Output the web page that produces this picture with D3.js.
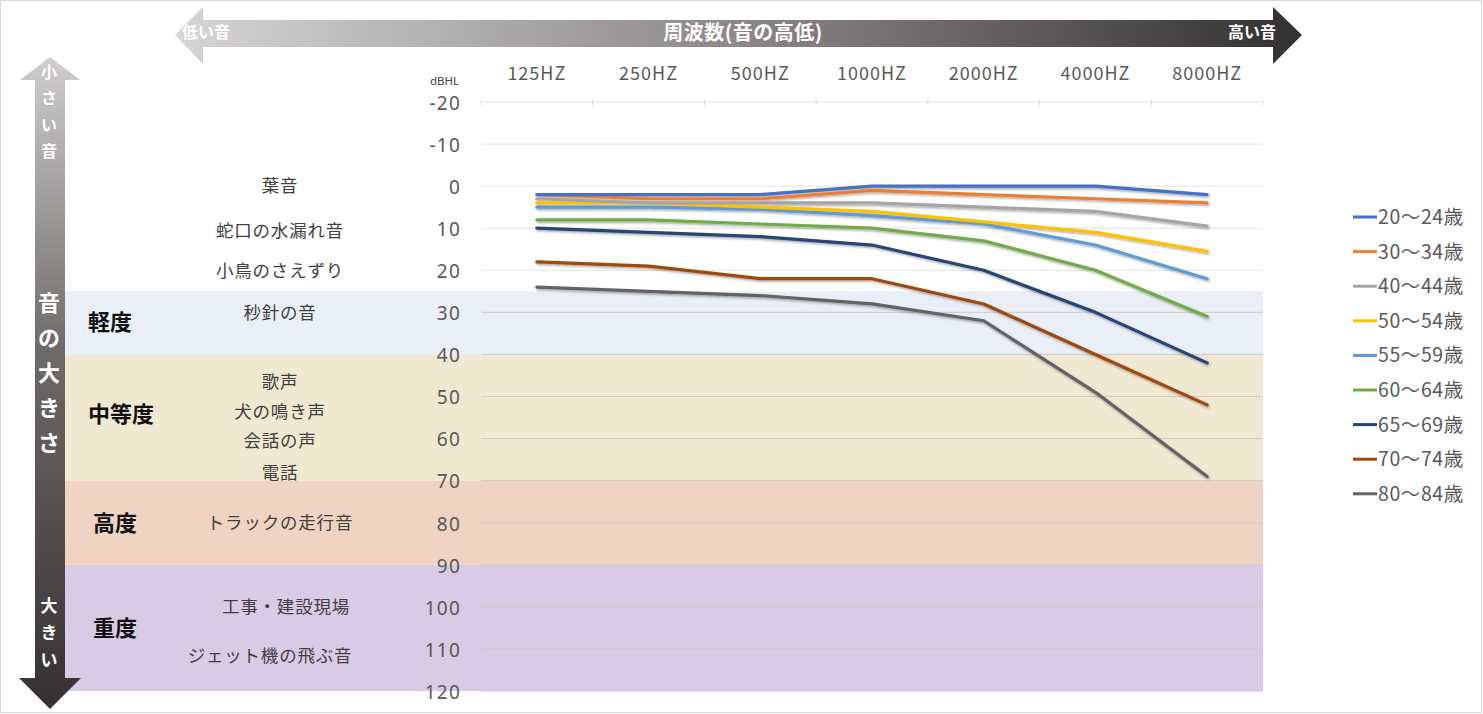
<!DOCTYPE html>
<html><head><meta charset="utf-8">
<script src="https://cdn.jsdelivr.net/npm/d3@7"></script>
<style>body{margin:0;background:#fff;}svg{display:block;font-family:"Noto Sans CJK JP","Noto Sans",sans-serif;}</style>
</head><body>
<svg id="c" width="1483" height="714"></svg>
<script>
const frequencies = ["125HZ","250HZ","500HZ","1000HZ","2000HZ","4000HZ","8000HZ"];
const seriesNames = ["20～24歳","30～34歳","40～44歳","50～54歳","55～59歳","60～64歳","65～69歳","70～74歳","80～84歳"];
const seriesColors = ["#4472C4","#ED7D31","#A5A5A5","#FFC000","#5B9BD5","#70AD47","#264478","#9E480E","#636363"];
const v20 = [2,2,2,0,0,0,2];
const v30 = [2,3,3,1,2,3,4];
const v40 = [3,4,4,4,5,6,9.5];
const v50 = [4,4,5,6,8.5,11,15.5];
const v55 = [5,5,5.5,7,9,14,22];
const v60 = [8,8,9,10,13,20,31];
const v65 = [10,11,12,14,20,30,42];
const v70 = [18,19,22,22,28,40,52];
const v80 = [24,25,26,28,32,49,69];
const seriesValues = [v20,v30,v40,v50,v55,v60,v65,v70,v80];
const yTicks = [-20,-10,0,10,20,30,40,50,60,70,80,90,100,110,120];
const bandNames = ["軽度","中等度","高度","重度"];
const bandFrom = [25,40,70,90];
const bandTo = [40,70,90,120];
const bandColors = ["#E9EEF7","#F1E8D2","#F0D4C3","#D9CAE6"];
const soundNames = ["葉音","蛇口の水漏れ音","小鳥のさえずり","秒針の音","歌声","犬の鳴き声","会話の声","電話","トラックの走行音","工事・建設現場","ジェット機の飛ぶ音"];
const soundLevels = [0,10.5,20,30,46.5,53.5,60.5,68,80,100,111.5];

const svg = d3.select("#c");
const x = d3.scaleBand().domain(frequencies).range([481,1263]);
const y = d3.scaleLinear().domain([-20,120]).range([102,691]);

const defs = svg.append("defs");
const gh = defs.append("linearGradient").attr("id","gh").attr("gradientUnits","userSpaceOnUse").attr("x1",175).attr("x2",1303).attr("y1",0).attr("y2",0);
gh.append("stop").attr("offset","0").attr("stop-color","#d6d4d4");
gh.append("stop").attr("offset","0.5").attr("stop-color","#8c8888");
gh.append("stop").attr("offset","1").attr("stop-color","#333030");
const gv = defs.append("linearGradient").attr("id","gv").attr("gradientUnits","userSpaceOnUse").attr("x1",0).attr("x2",0).attr("y1",57).attr("y2",709);
gv.append("stop").attr("offset","0").attr("stop-color","#cfcdcd");
gv.append("stop").attr("offset","0.45").attr("stop-color","#6e6a6a");
gv.append("stop").attr("offset","1").attr("stop-color","#353131");
const sh = defs.append("filter").attr("id","sh").attr("x","-5%").attr("y","-20%").attr("width","110%").attr("height","140%");
sh.append("feDropShadow").attr("dx",1).attr("dy",1.5).attr("stdDeviation",1.2).attr("flood-color","#000").attr("flood-opacity",0.35);

// border
svg.append("rect").attr("x",0.5).attr("y",0.5).attr("width",1481).attr("height",712).attr("fill","none").attr("stroke","#d9d9d9");

// bands
svg.selectAll("rect.band").data(bandNames).join("rect").attr("class","band")
  .attr("x",65).attr("width",1263-65)
  .attr("y",(d,i)=>y(bandFrom[i])).attr("height",(d,i)=>y(bandTo[i])-y(bandFrom[i]))
  .attr("fill",(d,i)=>bandColors[i]);

// grid
svg.selectAll("line.grid").data(yTicks).join("line").attr("class","grid")
  .attr("x1",481).attr("x2",1263).attr("y1",d=>y(d)).attr("y2",d=>y(d))
  .attr("stroke",d=>d>25?"#d0ccc4":"#e3e3e3").attr("stroke-width",1);
// top category ticks
const bounds = frequencies.map(f=>x(f)).concat([x.range()[1]]);
svg.selectAll("line.ct").data(bounds).join("line").attr("class","ct")
  .attr("x1",d=>d).attr("x2",d=>d).attr("y1",y(-20)-3).attr("y2",y(-20)+3).attr("stroke","#d9d9d9");

// y labels
svg.selectAll("text.yl").data(yTicks).join("text").attr("class","yl")
  .attr("x",461).attr("y",d=>y(d)+1).attr("dy","0.36em").attr("text-anchor","end")
  .attr("font-family","'Noto Sans',sans-serif")
  .attr("font-size",19).attr("letter-spacing",1.2).attr("fill","#595959").text(d=>d);
svg.append("text").attr("x",430).attr("y",85).attr("font-family","'Noto Sans',sans-serif").attr("font-size",11.5).attr("fill","#404040").text("dBHL");

// x labels (top)
svg.selectAll("text.xl").data(frequencies).join("text").attr("class","xl")
  .attr("x",d=>x(d)+x.bandwidth()/2).attr("y",80).attr("text-anchor","middle")
  .attr("font-size",18).attr("letter-spacing",1).attr("fill","#595959").text(d=>d);

// band labels
const bandLabelX = [88,88,93,93];
svg.selectAll("text.bl").data(bandNames).join("text").attr("class","bl")
  .attr("x",(d,i)=>bandLabelX[i]).attr("y",(d,i)=>y((bandFrom[i]+bandTo[i])/2)+ (i==0?-1:(i==1?-3:0)))
  .attr("dy","0.36em").attr("font-size",22).attr("font-weight","bold").attr("fill","#111").text(d=>d);

// sound examples
svg.selectAll("text.sl").data(soundNames).join("text").attr("class","sl")
  .attr("x",(d,i)=>i==9?286:(i==10?270:280)).attr("y",(d,i)=>y(soundLevels[i]))
  .attr("dy","0.36em").attr("text-anchor","middle").attr("font-size",17.5).attr("letter-spacing",0.8).attr("fill","#404040").text(d=>d);

// lines
const line = d3.line().x((d,i)=>x(frequencies[i])+x.bandwidth()/2).y(d=>y(d));
svg.append("g").attr("filter","url(#sh)").selectAll("path").data(seriesValues.slice().reverse()).join("path")
  .attr("d",line).attr("fill","none")
  .attr("stroke",(d,i)=>seriesColors[seriesValues.length-1-i]).attr("stroke-width",3.2).attr("stroke-linejoin","round").attr("stroke-linecap","round");

// legend
const lg = svg.append("g");
seriesNames.forEach((n,i)=>{
  const yy = 217 + i*34.6;
  lg.append("line").attr("x1",1353).attr("x2",1377).attr("y1",yy).attr("y2",yy).attr("stroke",seriesColors[i]).attr("stroke-width",3);
  lg.append("text").attr("x",1378).attr("y",yy).attr("dy","0.36em").attr("font-size",19.5).attr("letter-spacing",0.6).attr("fill","#595959").text(n);
});

// top arrow
svg.append("path").attr("d","M175,35 L203,7 L203,20 L1273,20 L1273,7 L1302,35 L1273,64 L1273,47 L203,47 L203,64 Z").attr("fill","url(#gh)");
svg.append("text").attr("x",182).attr("y",32).attr("dy","0.36em").attr("font-size",16).attr("font-weight","bold").attr("fill","#fff").text("低い音");
svg.append("text").attr("x",743).attr("y",33).attr("dy","0.36em").attr("text-anchor","middle").attr("font-size",20).attr("letter-spacing",0.5).attr("font-weight","bold").attr("fill","#fff").text("周波数(音の高低)");
svg.append("text").attr("x",1276).attr("y",32).attr("dy","0.36em").attr("text-anchor","end").attr("font-size",16).attr("font-weight","bold").attr("fill","#fff").text("高い音");

// left arrow
svg.append("path").attr("d","M50,57 L80,80 L65,80 L65,678 L81,678 L50,709 L19,678 L35,678 L35,80 L20,80 Z").attr("fill","url(#gv)");
const vt = (chars, y0, step, size, w)=>chars.split("").forEach((c,i)=>
  svg.append("text").attr("x",49).attr("y",y0+i*step).attr("dy","0.36em").attr("text-anchor","middle").attr("font-size",size).attr("font-weight",w).attr("fill","#fff").text(c));
vt("小さい音",72,26.5,16,"bold");
vt("音の大きさ",303,35,22,"bold");
vt("大きい",606,27,17,"bold");
</script>
</body></html>
